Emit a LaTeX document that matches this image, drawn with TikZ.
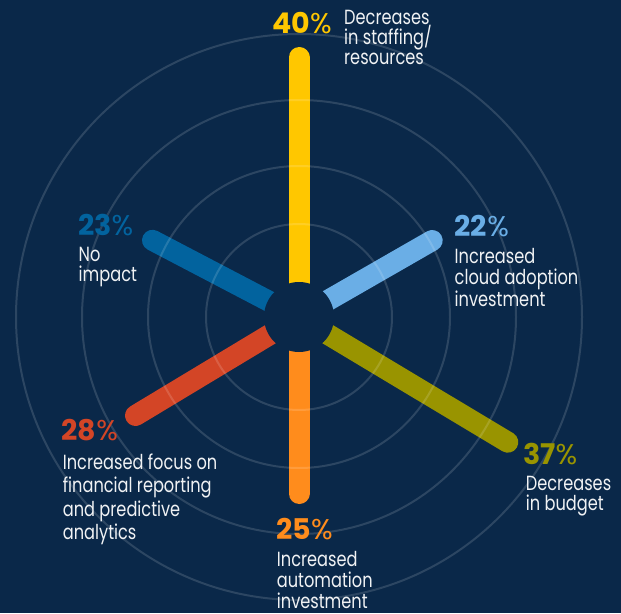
\documentclass[tikz,border=0pt]{standalone}
\usepackage{fontspec}
\newfontfamily\bodyfont{Poppins}[FakeStretch=0.79]
\newfontfamily\numfont{Poppins}[UprightFont=*, BoldFont=* Bold]
\newfontfamily\pctfont{Poppins}
\definecolor{bg}{HTML}{0A2849}
\definecolor{cyellow}{HTML}{FFC700}
\definecolor{clblue}{HTML}{6AAEE6}
\definecolor{colive}{HTML}{999400}
\definecolor{corange}{HTML}{FF8C1C}
\definecolor{cred}{HTML}{D34526}
\definecolor{cdblue}{HTML}{02639E}
\definecolor{bodytext}{HTML}{F0F2F4}
\begin{document}
\begin{tikzpicture}[x=1pt,y=-1pt,
  ring/.style={draw=white, draw opacity=0.14, line width=2pt},
  bar/.style={line width=21pt, line cap=round},
  pct/.style={anchor=base west, inner sep=0pt, font=\fontsize{28.5}{28.5}\selectfont},
  desc/.style={anchor=base west, inner sep=0pt, align=left, text=bodytext},
]
\fill[bg] (0,0) rectangle (621,613);
\useasboundingbox (0,0) rectangle (621,613);
\coordinate (c) at (299,317);
\coordinate (eY) at (299,57.5);
\coordinate (eL) at (432.2,240.5);
\coordinate (eO) at (507.8,442.2);
\coordinate (eA) at (299,493.5);
\coordinate (eR) at (135.5,415.5);
\coordinate (eD) at (152.5,240.3);
\draw[bar, draw=cyellow] (c) -- (eY);
\draw[bar, draw=clblue] (c) -- (eL);
\draw[bar, draw=colive] (c) -- (eO);
\draw[bar, draw=corange] (c) -- (eA);
\draw[bar, draw=cred] (c) -- (eR);
\draw[bar, draw=cdblue] (c) -- (eD);
\fill[bg] (c) circle[radius=35pt];
\foreach \r in {93,151,217,283} \draw[ring] (c) circle[radius=\r pt];

% multi-line nodes: base anchor is the last line's baseline
\node[pct, text=cyellow] (p40) at (272,33.3) {{\numfont\bfseries 40}{\pctfont\%}};
\node[desc, font=\bodyfont\fontsize{20.5}{20.2}\selectfont] (t40) at (344,64.4) {Decreases\\in staffing/\\resources};
\node[pct, text=clblue] (p22) at (454.5,236) {{\numfont\bfseries 22}{\pctfont\%}};
\node[desc, font=\bodyfont\fontsize{20.5}{21.5}\selectfont] (t22) at (454.5,306.3) {Increased\\cloud adoption\\investment};
\node[pct, text=cdblue] (p23) at (78,235) {{\numfont\bfseries 23}{\pctfont\%}};
\node[desc, font=\bodyfont\fontsize{20.5}{20}\selectfont] (t23) at (78.5,281.7) {No\\impact};
\node[pct, text=cred] (p28) at (61.5,440.7) {{\numfont\bfseries 28}{\pctfont\%}};
\node[desc, font=\bodyfont\fontsize{20.5}{23.3}\selectfont] (t28) at (62.7,539.4) {Increased focus on\\financial reporting\\and predictive\\analytics};
\node[pct, text=corange] (p25) at (276,539) {{\numfont\bfseries 25}{\pctfont\%}};
\node[desc, font=\bodyfont\fontsize{20.5}{20.8}\selectfont] (t25) at (276.7,608.3) {Increased\\automation\\investment};
\node[pct, text=colive] (p37) at (523,464) {{\numfont\bfseries 37}{\pctfont\%}};
\node[desc, font=\bodyfont\fontsize{20.5}{20}\selectfont] (t37) at (525.7,510.7) {Decreases\\in budget};
\end{tikzpicture}
\end{document}
